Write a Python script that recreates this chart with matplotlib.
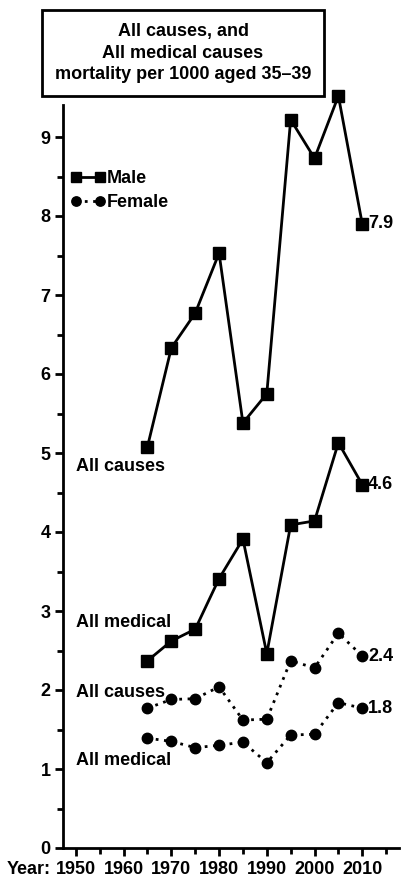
"""Mortality per 1000 aged 35-39: all causes and all medical causes."""

import matplotlib
matplotlib.use("Agg")
import matplotlib.pyplot as plt
from matplotlib.ticker import MultipleLocator

plt.rcParams["font.family"] = ["Liberation Sans", "DejaVu Sans"]
plt.rcParams["font.weight"] = "bold"

years = [1965, 1970, 1975, 1980, 1985, 1990, 1995, 2000, 2005, 2010]
male_all = [5.08, 6.33, 6.77, 7.53, 5.38, 5.75, 9.22, 8.73, 9.52, 7.90]
male_medical = [2.37, 2.62, 2.77, 3.41, 3.91, 2.46, 4.09, 4.14, 5.13, 4.60]
female_all = [1.77, 1.88, 1.89, 2.04, 1.62, 1.63, 2.37, 2.28, 2.72, 2.43]
female_medical = [1.39, 1.35, 1.27, 1.30, 1.34, 1.08, 1.43, 1.44, 1.84, 1.77]
end_labels = ["7.9", "4.6", "2.4", "1.8"]
x_ticks = [1950, 1960, 1970, 1980, 1990, 2000, 2010]

FS = 13

fig = plt.figure(figsize=(4.04, 8.82), dpi=100)
ax = fig.add_axes([63 / 404, 34 / 882, 336 / 404, 9.4 * 79 / 882])

male_kw = dict(color="black", lw=2, marker="s", ms=8, linestyle="-", clip_on=False)
female_kw = dict(color="black", lw=2, marker="o", ms=7.5, linestyle=(0, (1, 2)), clip_on=False)
ax.plot(years, male_all, label="Male", **male_kw)
ax.plot(years, male_medical, **male_kw)
ax.plot(years, female_all, label="Female", **female_kw)
ax.plot(years, female_medical, **female_kw)

# valores finales a la derecha
for series, lab in zip([male_all, male_medical, female_all, female_medical], end_labels):
    ax.text(years[-1] + 1.2, series[-1], lab, fontsize=FS, fontweight="bold", va="center", ha="left")

# etiquetas de las series
ax.text(1950, 4.83, "All causes", fontsize=FS, fontweight="bold", va="center")
ax.text(1950, 2.86, "All medical", fontsize=FS, fontweight="bold", va="center")
ax.text(1950, 1.97, "All causes", fontsize=FS, fontweight="bold", va="center")
ax.text(1950, 1.11, "All medical", fontsize=FS, fontweight="bold", va="center")

ax.set_xlim(1947.3, 2017.7)
ax.set_ylim(0, 9.4)
ax.xaxis.set_major_locator(MultipleLocator(10))
ax.xaxis.set_minor_locator(MultipleLocator(5))
ax.yaxis.set_major_locator(MultipleLocator(1))
ax.yaxis.set_minor_locator(MultipleLocator(0.5))
ax.set_xticks(x_ticks)
ax.set_xticklabels([str(t) for t in x_ticks])
ax.tick_params(which="major", length=6, width=2, labelsize=FS, pad=3)
ax.tick_params(which="minor", length=4, width=2)
for lab in ax.get_xticklabels() + ax.get_yticklabels():
    lab.set_fontweight("bold")
for side in ["top", "right"]:
    ax.spines[side].set_visible(False)
for side in ["left", "bottom"]:
    ax.spines[side].set_linewidth(2)

fig.text(7 / 404, 1 - 870 / 882, "Year:", fontsize=FS, fontweight="bold", va="center", ha="left")

leg = fig.legend(loc="upper left", bbox_to_anchor=(71 / 404, 1 - 170 / 882), frameon=False, fontsize=FS,
                 numpoints=2, markerscale=0.9, handlelength=1.9, handletextpad=0.1, labelspacing=0.4,
                 borderpad=0, borderaxespad=0)
for t in leg.get_texts():
    t.set_fontweight("bold")

fig.text(183 / 404, 1 - 53 / 882,
         "All causes, and\nAll medical causes\nmortality per 1000 aged 35\u201339",
         fontsize=13, fontweight="bold", ha="center", va="center", linespacing=1.35,
         bbox=dict(boxstyle="square,pad=0.7", fc="white", ec="black", lw=2))

fig.savefig("out.png", dpi=100)
